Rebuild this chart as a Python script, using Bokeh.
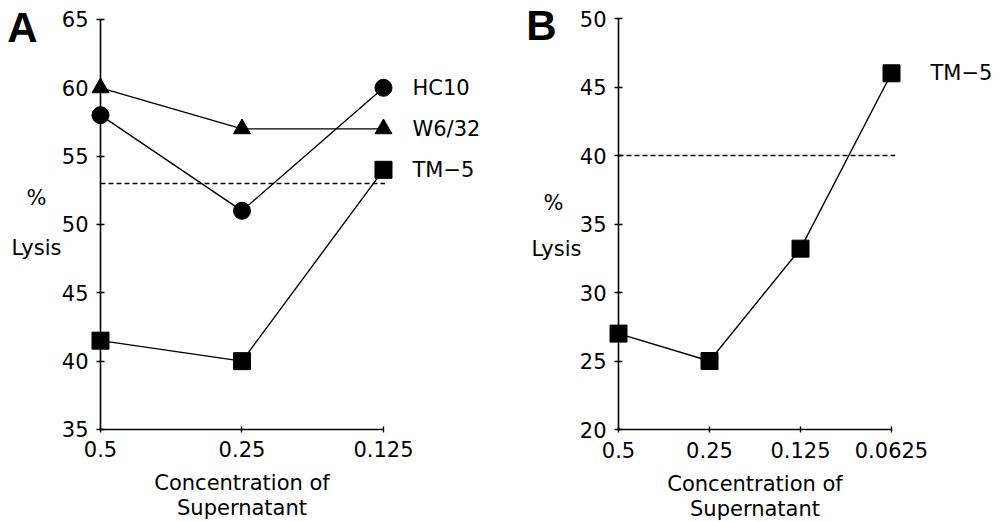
from bokeh.plotting import figure
from bokeh.models import Range1d, FixedTicker, Label
from bokeh.layouts import row
from bokeh.core.properties import value
from bokeh.embed import file_html
from bokeh.resources import INLINE

# ---- data, panel A ----
conc_a = ["0.5", "0.25", "0.125"]
hc10 = [58, 51, 60]
w632 = [60, 57, 57]
tm5_a = [41.5, 40, 54]
control_a = 53
y_ticks_a = [35, 40, 45, 50, 55, 60, 65]

# ---- data, panel B ----
conc_b = ["0.5", "0.25", "0.125", "0.0625"]
tm5_b = [27, 25, 33.2, 46]
control_b = 40
y_ticks_b = [20, 25, 30, 35, 40, 45, 50]

FONT = "DejaVu Sans"
LETTER_FONT = "Liberation Sans"
FS = "21px"


def make_panel(width, xr, yr, labels, yticks):
    p = figure(width=width, height=520, x_range=xr, y_range=yr,
               output_backend="svg", toolbar_location=None, min_border=0)
    p.grid.visible = False
    p.outline_line_color = None
    p.background_fill_color = "white"
    p.border_fill_color = "white"

    xs = list(range(len(labels)))
    xa = p.xaxis[0]
    xa.fixed_location = yticks[0]
    xa.ticker = FixedTicker(ticks=xs)
    xa.major_label_overrides = {i: lab for i, lab in zip(xs, labels)}
    xa.bounds = (xs[0], xs[-1])
    xa.minor_tick_line_color = None
    xa.major_tick_in = 3
    xa.major_tick_out = 3
    xa.axis_line_width = 1.6
    xa.major_tick_line_width = 1.4
    xa.major_label_standoff = 9
    xa.major_label_text_font = FONT
    xa.major_label_text_font_size = FS
    xa.major_label_text_color = "black"

    ya = p.yaxis[0]
    ya.fixed_location = xs[0]
    ya.ticker = FixedTicker(ticks=yticks)
    ya.bounds = (yticks[0], yticks[-1])
    ya.minor_tick_line_color = None
    ya.major_tick_in = 4
    ya.major_tick_out = 4
    ya.axis_line_width = 1.6
    ya.major_tick_line_width = 1.4
    ya.major_label_standoff = 8
    ya.major_label_text_font = FONT
    ya.major_label_text_font_size = FS
    ya.major_label_text_color = "black"

    mid = (len(labels) - 1) / 2
    for txt, yo in (("Concentration of", -54), ("Supernatant", -79)):
        p.add_layout(Label(x=mid, y=yticks[0], y_offset=yo, text=txt,
                           text_align="center", text_baseline="middle",
                           text_font=FONT, text_font_size=FS,
                           text_color="black"))
    return p


def side_labels(p, ytop, dx_pct, dy_pct, dx_lys, dy_lys, dx_let, dy_let, letter):
    p.add_layout(Label(x=0, y=ytop, x_offset=dx_pct, y_offset=dy_pct, text="%",
                       text_align="center", text_baseline="middle",
                       text_font=FONT, text_font_size=FS, text_color="black"))
    p.add_layout(Label(x=0, y=ytop, x_offset=dx_lys, y_offset=dy_lys, text="Lysis",
                       text_align="center", text_baseline="middle",
                       text_font=FONT, text_font_size=FS, text_color="black"))
    p.add_layout(Label(x=0, y=ytop, x_offset=dx_let, y_offset=dy_let, text=letter,
                       text_align="center", text_baseline="middle",
                       text_font=LETTER_FONT, text_font_style="bold",
                       text_font_size="42px", text_color="black"))


# ---------------- Panel A ----------------
pA = make_panel(508, Range1d(-0.7067, 2.8834), Range1d(28.34, 66.39),
                conc_a, y_ticks_a)
xa_idx = list(range(len(conc_a)))
pA.line([0, xa_idx[-1] + 0.01], [control_a, control_a], line_color="black",
        line_width=1.5, line_dash="5 3")
for ys, mk in ((hc10, "circle"), (w632, "triangle"), (tm5_a, "square")):
    pA.line(xa_idx, ys, line_color="black", line_width=1.4)
    pA.scatter(xa_idx, ys, marker=mk, size=17, fill_color="black",
               line_color="black")
pA.text(x=[xa_idx[-1]] * 3, y=[hc10[-1], w632[-1], tm5_a[-1]],
        text=["HC10", "W6/32", "TM\u22125"], x_offset=29,
        text_baseline="middle", text_align="left",
        text_font=value(FONT), text_font_size=value(FS),
        text_color="black")
side_labels(pA, y_ticks_a[-1], -64, -179, -64, -229, -78, -8, "A")

# ---------------- Panel B ----------------
pB = make_panel(492, Range1d(-1.2088, 4.1978), Range1d(13.358, 51.314),
                conc_b, y_ticks_b)
xb_idx = list(range(len(conc_b)))
pB.line([0, xb_idx[-1] + 0.04], [control_b, control_b], line_color="black",
        line_width=1.5, line_dash="5 3")
pB.line(xb_idx, tm5_b, line_color="black", line_width=1.4)
pB.scatter(xb_idx, tm5_b, marker="square", size=17, fill_color="black",
           line_color="black")
pB.text(x=[xb_idx[-1]], y=[tm5_b[-1]], text=["TM\u22125"], x_offset=39,
        text_baseline="middle", text_align="left",
        text_font=value(FONT), text_font_size=value(FS),
        text_color="black")
side_labels(pB, y_ticks_b[-1], -65, -184, -62, -230, -77, -7, "B")

layout = row(pA, pB)
open("out.html", "w").write(file_html(layout, INLINE))
